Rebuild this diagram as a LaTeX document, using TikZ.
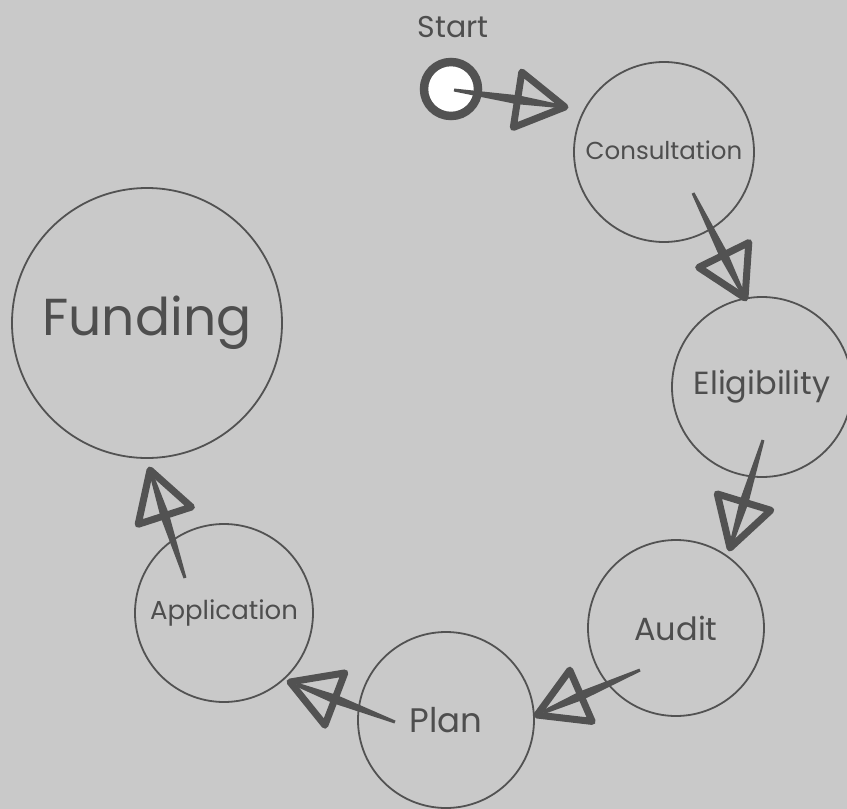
\documentclass[tikz,border=0pt]{standalone}
\usepackage{fontspec}
\setmainfont{Poppins}
\usetikzlibrary{calc}
\definecolor{paper}{RGB}{201,201,201}
\definecolor{ink}{RGB}{82,82,82}
\definecolor{txt}{RGB}{78,78,78}

% hand-drawn arrow: tapered shaft plus open triangular head
% #1 start coordinate, #2 tip coordinate
\newcommand\handarrow[2]{%
  \coordinate (hb) at ($(#2)!48pt!(#1)$);
  \coordinate (hp) at ($(#2)!7pt!(#1)$);
  \fill[ink] ($(#1)!1.5pt!90:(#2)$) -- ($(hb)!4.5pt!-90:(#1)$) -- ($(hp)!2pt!-90:(#1)$)
     -- ($(hp)!2pt!90:(#1)$) -- ($(hb)!4.5pt!90:(#1)$) -- ($(#1)!1.5pt!-90:(#2)$) -- cycle;
  \draw[arrowhead] (#2) -- ($(hb)!28pt!90:(#2)$) -- ($(hb)!28pt!-90:(#2)$) -- cycle;
}

\tikzset{
  stage/.style={circle, draw=ink, line width=1.8pt, inner sep=0pt, text=txt},
  arrowhead/.style={draw=ink, line width=7pt, line join=round},
}

\begin{document}
\begin{tikzpicture}[x=1pt,y=-1pt]
  \fill[paper] (0,0) rectangle (847,809);
  \useasboundingbox (0,0) rectangle (847,809);

  % stages around the cycle
  \node[stage, minimum size=180pt, font=\fontsize{24.5}{28}\selectfont] (cons) at (664,152) {\raisebox{3pt}{Consultation}};
  \node[stage, minimum size=180pt, font=\fontsize{32}{36}\selectfont] (elig) at (762,387) {Eligibility};
  \node[stage, minimum size=176pt, font=\fontsize{32}{36}\selectfont] (audit) at (676,628) {Audit};
  \node[stage, minimum size=176pt, font=\fontsize{34}{38}\selectfont] (plan) at (446,720) {Plan};
  \node[stage, minimum size=178pt, font=\fontsize{26}{30}\selectfont] (app) at (224,613) {\raisebox{-3pt}{Application}};
  \node[stage, minimum size=270pt, font=\fontsize{52}{58}\selectfont] (fund) at (147,323) {Funding};

  % start marker
  \node[circle, draw=ink, fill=white, line width=8.5pt, minimum size=54pt, inner sep=0pt] (start) at (451,89) {};
  \node[text=txt, font=\fontsize{30}{34}\selectfont] (startlbl) at (453,27) {Start};

  % connector end points
  \coordinate (s1) at ($(start.center)+(3,1)$);
  \coordinate (t1) at ($(cons.center)+(-99,-45)$);
  \coordinate (s2) at ($(cons.center)+(29,41)$);
  \coordinate (t2) at ($(elig.center)+(-17,-89)$);
  \coordinate (s3) at ($(elig.center)+(1,53)$);
  \coordinate (t3) at ($(audit.center)+(54,-80)$);
  \coordinate (s4) at ($(audit.center)+(-36,42)$);
  \coordinate (t4) at ($(plan.center)+(91,-5)$);
  \coordinate (s5) at ($(plan.center)+(-51,2)$);
  \coordinate (t5) at ($(app.center)+(66,69)$);
  \coordinate (s6) at ($(app.center)+(-39,-35)$);
  \coordinate (t6) at ($(fund.center)+(3,147)$);

  \handarrow{s1}{t1}
  \handarrow{s2}{t2}
  \handarrow{s3}{t3}
  \handarrow{s4}{t4}
  \handarrow{s5}{t5}
  \handarrow{s6}{t6}
\end{tikzpicture}
\end{document}
